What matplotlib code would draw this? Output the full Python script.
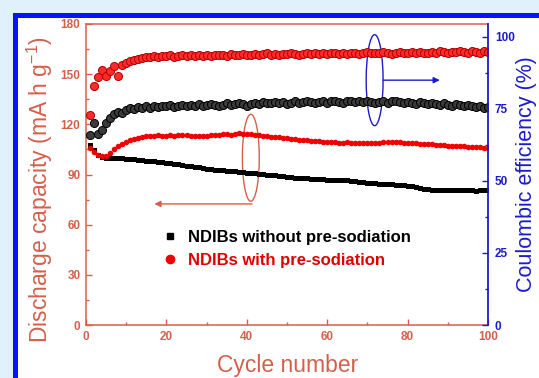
import numpy as np
import matplotlib
matplotlib.use("Agg")
import matplotlib.pyplot as plt
from matplotlib.patches import Ellipse, Rectangle
from matplotlib.lines import Line2D

plt.rcParams['font.family'] = ['Liberation Sans', 'DejaVu Sans']

cykle = list(range(1, 101))

# pojemnosc rozladowania (mA h g-1)
poj_bez = [107.6, 104.5, 101.6, 100.4, 100.0, 100.1, 99.8, 99.6, 99.7, 99.4,
           99.2, 99.0, 98.8, 98.6, 98.3, 98.1, 97.8, 97.5, 97.2, 96.9,
           96.6, 96.3, 96.0, 95.6, 95.3, 95.0, 94.6, 94.2, 93.9, 93.5,
           93.2, 92.9, 92.6, 92.4, 92.2, 92.0, 91.8, 91.5, 91.3, 91.0,
           90.8, 90.6, 90.4, 90.2, 90.0, 89.8, 89.5, 89.2, 88.9, 88.7,
           88.4, 88.2, 88.0, 87.9, 87.8, 87.6, 87.5, 87.3, 87.1, 87.0,
           86.9, 86.8, 86.7, 86.6, 86.5, 86.3, 86.0, 85.7, 85.4, 85.2,
           85.0, 84.8, 84.6, 84.4, 84.3, 84.2, 84.0, 83.8, 83.5, 83.2,
           82.9, 82.6, 82.2, 81.6, 81.2, 81.0, 80.9, 80.9, 81.0, 80.8,
           80.7, 80.8, 80.6, 80.7, 80.5, 80.6, 80.4, 80.6, 80.5, 80.7]

poj_z = [106.0, 103.2, 101.6, 100.8, 101.2, 103.0, 105.2, 106.9, 108.3, 109.6,
         110.6, 111.5, 112.1, 112.6, 113.0, 112.8, 113.2, 113.4, 113.1, 113.3,
         113.6, 113.2, 113.5, 113.8, 113.4, 113.0, 113.3, 113.1, 112.8, 113.2,
         113.5, 113.8, 113.6, 114.0, 114.2, 113.9, 114.3, 114.6, 114.2, 114.4,
         114.0, 113.7, 113.5, 113.2, 113.0, 112.7, 112.4, 112.2, 111.9, 111.7,
         111.4, 111.2, 110.9, 110.7, 110.5, 110.3, 110.1, 109.9, 109.7, 109.6,
         109.4, 109.2, 109.1, 109.0, 109.2, 108.9, 108.8, 108.9, 108.7, 108.9,
         109.1, 108.8, 109.0, 109.2, 109.4, 109.3, 109.5, 109.3, 109.1, 109.0,
         108.8, 108.6, 108.5, 108.3, 108.2, 108.0, 107.8, 107.7, 107.5, 107.3,
         107.2, 107.0, 106.9, 106.8, 106.6, 106.5, 106.4, 106.2, 106.1, 106.0]

# sprawnosc kulombowska (%)
ce_bez = [66.0, 70.2, 66.2, 67.6, 70.0, 71.8, 73.2, 74.0, 73.6, 74.6,
          75.2, 75.0, 75.6, 75.3, 75.9, 75.5, 76.0, 75.7, 76.2, 76.0,
          76.3, 75.8, 76.1, 76.4, 76.0, 76.5, 76.2, 76.7, 76.1, 76.4,
          76.8, 76.3, 75.9, 76.5, 76.9, 76.4, 76.7, 77.0, 76.6, 76.2,
          76.8, 77.1, 76.7, 77.3, 76.9, 77.2, 77.5, 77.0, 77.4, 76.8,
          77.2, 77.6, 77.1, 77.5, 77.8, 77.3, 77.0, 77.4, 77.7, 77.2,
          77.6, 77.9, 77.4, 77.1, 77.6, 77.8, 77.3, 77.7, 77.5, 77.9,
          77.4, 77.0, 77.5, 77.8, 77.2, 77.6, 77.9, 77.3, 77.0, 77.5,
          77.2, 76.8, 77.4, 77.0, 76.6, 77.1, 76.8, 76.4, 76.9, 76.5,
          76.2, 76.7, 76.3, 75.9, 76.4, 76.0, 75.6, 75.9, 75.4, 75.6]

ce_z = [73.0, 83.0, 86.2, 88.6, 86.5, 88.2, 89.8, 86.6, 90.1, 90.9,
        91.6, 92.0, 92.5, 92.8, 93.0, 93.2, 93.4, 93.1, 93.5, 93.3,
        93.6, 93.2, 93.5, 93.7, 93.4, 93.6, 93.3, 93.8, 93.5, 93.7,
        93.4, 93.9, 93.6, 93.8, 93.5, 94.0, 93.7, 93.9, 94.1, 93.6,
        93.9, 94.2, 93.8, 94.0, 94.3, 93.9, 94.1, 93.8, 94.2, 94.0,
        94.4, 94.1, 93.8, 94.2, 94.5, 94.1, 94.3, 94.0, 94.4, 94.2,
        94.6, 94.3, 94.1, 94.5, 94.2, 94.6, 94.4, 94.1, 94.5, 94.8,
        94.3, 94.6, 94.4, 94.7, 94.5, 94.2, 94.6, 94.8, 94.5, 94.3,
        94.7, 94.5, 94.9, 94.6, 94.4, 94.8, 94.6, 95.0, 94.7, 94.5,
        94.9, 94.7, 95.1, 94.8, 94.6, 95.0, 94.8, 94.6, 95.0, 94.8]

etykiety = ["NDIBs without pre-sodiation", "NDIBs with pre-sodiation"]

kolor_l = '#d4604c'
kolor_p = '#1c1ccc'

fig = plt.figure(figsize=(5.39, 3.78), dpi=100)
fig.patch.set_facecolor('#e1f1fb')
ramka = Rectangle((14.5 / 539, -0.1), 1.2, 1.1 - 14.5 / 378, transform=fig.transFigure,
                  facecolor='white', edgecolor='#0a14f5', lw=3.6, zorder=-1)
fig.add_artist(ramka)

ax1 = fig.add_axes([86 / 539, 1 - 325 / 378, 402 / 539, 301 / 378])
ax2 = ax1.twinx()

ax1.plot(cykle, poj_bez, 's', color='black', ms=3.6, mew=0, label=etykiety[0])
ax1.plot(cykle, poj_z, 'o', color='#f00000', ms=4.0, mew=0, label=etykiety[1])
ax2.plot(cykle, ce_bez, 'o', mfc='#3a3a3a', mec='black', ms=5.8, mew=0.7)
ax2.plot(cykle, ce_z, 'o', mfc='#ff2a2a', mec='#b00000', ms=5.8, mew=0.7)

ax1.set_xlim(0, 100)
ax1.set_ylim(0, 180)
ax2.set_ylim(0, 104.5)
ax1.set_xticks(np.arange(0, 101, 20))
ax1.set_xticks(np.arange(10, 100, 20), minor=True)
ax1.set_yticks(np.arange(0, 181, 30))
ax1.set_yticks(np.arange(15, 180, 30), minor=True)
ax2.set_yticks(np.arange(0, 101, 25))
ax2.set_yticks(np.arange(12.5, 100, 25), minor=True)

for s in ['left', 'bottom', 'top']:
    ax1.spines[s].set_color(kolor_l)
    ax1.spines[s].set_linewidth(1.1)
    ax2.spines[s].set_visible(False)
ax1.spines['right'].set_visible(False)
ax2.spines['right'].set_color(kolor_p)
ax2.spines['right'].set_linewidth(1.3)

ax1.tick_params(axis='both', which='both', direction='in', colors=kolor_l, width=1.0)
ax1.tick_params(which='major', length=4, labelsize=8.5, pad=4)
ax1.tick_params(which='minor', length=2.5)
ax2.tick_params(axis='y', which='both', direction='in', colors=kolor_p, width=1.0)
ax2.tick_params(which='major', length=4, labelsize=8.5, pad=5)
ax2.tick_params(which='minor', length=2.5)
for t in ax1.get_xticklabels() + ax1.get_yticklabels() + ax2.get_yticklabels():
    t.set_fontweight('bold')

ax1.set_xlabel("Cycle number", fontsize=16.5, color=kolor_l, va='top')
ax1.xaxis.set_label_coords(0.502, -0.098)
ax1.set_ylabel("Discharge capacity (mA h g$^{\\mathregular{-1}}$)", fontsize=16.5, color=kolor_l, va='top')
ax1.yaxis.set_label_coords(-0.152, 0.45)
ax2.set_ylabel("Coulombic efficiency (%)", fontsize=15.5, color=kolor_p, va='top', rotation=90)
ax2.yaxis.set_label_coords(1.0697, 0.5)

# elipsy i strzalki wskazujace osie
ax1.add_patch(Ellipse((41, 100), 4.2, 52, fill=False, ec=kolor_l, lw=1.0))
ax1.annotate('', xy=(17, 72.4), xytext=(41.3, 72.4),
             arrowprops=dict(arrowstyle='-|>', color=kolor_l, lw=1.0, mutation_scale=9, shrinkA=0, shrinkB=0))
ax2.add_patch(Ellipse((71.8, 85), 4.2, 31.6, fill=False, ec=kolor_p, lw=1.0))
ax2.annotate('', xy=(88, 85), xytext=(73.9, 85),
             arrowprops=dict(arrowstyle='-|>', color=kolor_p, lw=1.0, mutation_scale=9, shrinkA=0, shrinkB=0))

uchwyty = [Line2D([], [], ls='', marker='s', color='black', ms=5),
           Line2D([], [], ls='', marker='o', color='#f00000', ms=6)]
leg = ax1.legend(uchwyty, etykiety, loc='upper left', bbox_to_anchor=(0.155, 0.365),
                 frameon=False, handlelength=0.8, handletextpad=0.7, labelspacing=0.45,
                 prop={'weight': 'bold', 'size': 12}, labelcolor=['black', '#e00000'])

fig.savefig("out.png", dpi=100)
